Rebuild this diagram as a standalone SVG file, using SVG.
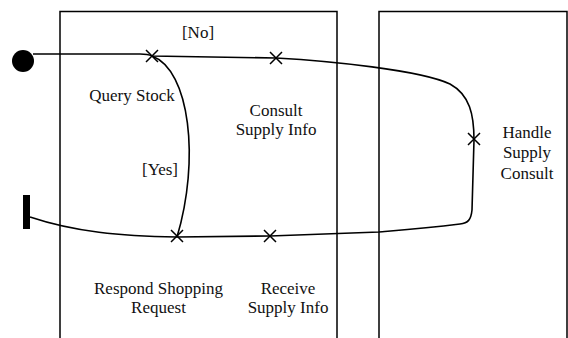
<svg xmlns="http://www.w3.org/2000/svg" width="568" height="338" viewBox="0 0 568 338">
  <style>
    .lane { fill: none; stroke: #000; stroke-width: 1.5; }
    .flow { fill: none; stroke: #000; stroke-width: 1.6; }
    .mark { fill: none; stroke: #000; stroke-width: 1.5; }
    text { font-family: "Liberation Serif", "Times New Roman", serif; font-size: 17px; fill: #111; text-anchor: middle; }
  </style>
  <defs>
    <path id="x" class="mark" d="M-6,-6 L6,6 M-6,6 L6,-6"/>
  </defs>

  <!-- swimlanes -->
  <g id="lanes">
    <path class="lane" d="M60,338 V11.5 H337 V338"/>
    <path class="lane" d="M379,338 V11.5 H567 V338"/>
  </g>

  <!-- connectors -->
  <g id="connectors">
    <path class="flow" d="M33,54 L140,54 C146,54 150,55 152,56 L276,58 C330,61 420,70 450,84 C470,95 474,115 474,140 L472,210 C471,220 468,223 460,224 C420,229 390,231 379,232 L270,236 L177,237 C120,236 75,232 30,217"/>
    <path class="flow" d="M152,56 C190,70 200,160 177,237"/>
  </g>

  <g id="start">
    <circle cx="23" cy="61" r="11" fill="#000"/>
  </g>
  <g id="end">
    <rect x="23" y="195" width="7" height="34" fill="#000"/>
  </g>

  <g id="query-stock">
    <use href="#x" x="152" y="56"/>
    <text x="132" y="101">Query Stock</text>
  </g>
  <g id="consult-supply-info">
    <use href="#x" x="276" y="58"/>
    <text x="276" y="116">Consult</text>
    <text x="276" y="135">Supply Info</text>
  </g>
  <g id="handle-supply-consult">
    <use href="#x" x="474" y="139"/>
    <text x="527" y="138">Handle</text>
    <text x="527" y="158">Supply</text>
    <text x="527" y="179">Consult</text>
  </g>
  <g id="receive-supply-info">
    <use href="#x" x="270" y="236"/>
    <text x="288" y="294">Receive</text>
    <text x="288" y="313">Supply Info</text>
  </g>
  <g id="respond-shopping-request">
    <use href="#x" x="177" y="236"/>
    <text x="158.5" y="294">Respond Shopping</text>
    <text x="158.5" y="313">Request</text>
  </g>

  <g id="guards">
    <text x="198" y="38">[No]</text>
    <text x="160" y="175">[Yes]</text>
  </g>
</svg>
